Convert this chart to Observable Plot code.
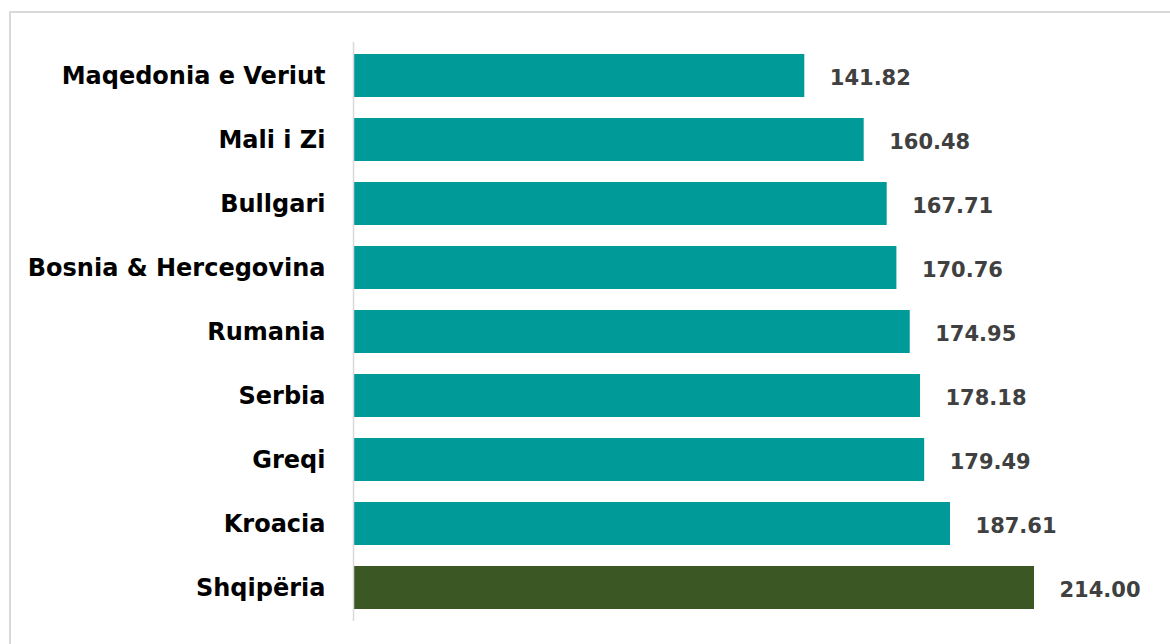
<!DOCTYPE html>
<html>
<head>
<meta charset="utf-8">
<script src="https://cdn.jsdelivr.net/npm/d3@7"></script>
<script src="https://cdn.jsdelivr.net/npm/@observablehq/plot@0.6"></script>
<style>
  html, body { margin: 0; padding: 0; background: #fff; }
  #wrap { position: relative; width: 1170px; height: 644px; overflow: hidden; }
  #frame { position: absolute; left: 9px; top: 11px; right: -5px; bottom: -5px; border: 2px solid #d9d9d9; }
  #chart { position: absolute; left: 0; top: 0; }
</style>
</head>
<body>
<div id="wrap"><div id="frame"></div><div id="chart"></div></div>
<script>
const countries = ["Maqedonia e Veriut", "Mali i Zi", "Bullgari", "Bosnia & Hercegovina", "Rumania", "Serbia", "Greqi", "Kroacia", "Shqipëria"];
const values = [141.82, 160.48, 167.71, 170.76, 174.95, 178.18, 179.49, 187.61, 214.00];
const highlight = "Shqipëria";

const data = countries.map((c, i) => ({country: c, value: values[i]}));

const chart = Plot.plot({
  width: 1170,
  height: 644,
  marginLeft: 353,
  marginRight: 136,
  marginTop: 42,
  marginBottom: 23,
  style: {fontFamily: "'DejaVu Sans', sans-serif", background: "transparent"},
  x: {domain: [0, 214], axis: null},
  y: {domain: countries, paddingInner: 0.33, paddingOuter: 0.165, label: null},
  marks: [
    Plot.barX(data, {x: "value", y: "country", fill: d => d.country === highlight ? "#3b5724" : "#009a98"}),
    Plot.ruleX([0], {stroke: "#d9d9d9", strokeWidth: 1.5}),
    Plot.text(data, {x: "value", y: "country", text: d => d.value.toFixed(2), textAnchor: "start", dx: 25, dy: 2, fill: "#404040", fontSize: 21, fontWeight: "bold"}),
    Plot.axisY({tickSize: 0, tickPadding: 28, fontSize: 24, fontWeight: "bold", fill: "#000", label: null})
  ]
});
document.getElementById("chart").appendChild(chart);
</script>
</body>
</html>
